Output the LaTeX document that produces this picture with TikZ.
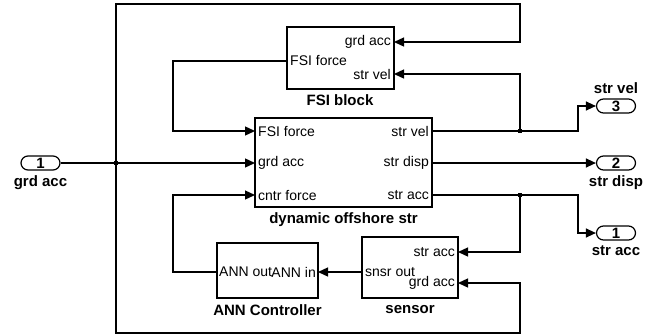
\documentclass[tikz,border=0pt]{standalone}
\usepackage{fontspec}
\setmainfont{Liberation Sans}
\usetikzlibrary{arrows.meta, positioning}
\definecolor{wireBlack}{gray}{0.0}

\tikzset{
  blk/.style={draw=wireBlack, line width=1.2pt, inner sep=0pt},
  prt/.style={draw=wireBlack, line width=1.2pt, rounded corners=7pt, minimum width=39pt, minimum height=14pt, inner sep=0pt, font=\fontsize{15}{15}\selectfont\bfseries},
  plab/.style={inner sep=0pt, font=\fontsize{14}{14}\selectfont},
  blab/.style={inner sep=0pt, font=\fontsize{15}{15}\selectfont\bfseries},
  wire/.style={wireBlack, line width=1.3pt},
  jdot/.style={fill=wireBlack, minimum size=4pt, inner sep=0pt},
}

\begin{document}
\begin{tikzpicture}[x=1pt, y=-1pt, >={Triangle[length=10pt, width=9pt]}]
    \useasboundingbox (0,0) rectangle (655,335);

    % blocks
    \node[blk, minimum width=107pt, minimum height=62pt] (fsi) at (340.5,58) {};
    \node[blk, minimum width=177pt, minimum height=89pt] (dyn) at (343.5,162.5) {};
    \node[blk, minimum width=101pt, minimum height=55pt] (ann) at (267.5,270.5) {};
    \node[blk, minimum width=96pt, minimum height=61pt] (sns) at (410,267.5) {};

    \node[blab] (fsiName) at (340,100) {FSI block};
    \node[blab] (dynName) at (343.5,220) {dynamic offshore str};
    \node[blab] (annName) at (267.5,310) {ANN Controller};
    \node[blab] (snsName) at (410,310) {sensor};

    % ports
    \coordinate (fsiForce) at (287,61);
    \coordinate (fsiGrd) at (394,42);
    \coordinate (fsiVel) at (394,74);
    \coordinate (dynForce) at (255,131);
    \coordinate (dynGrd) at (255,163);
    \coordinate (dynCntr) at (255,195);
    \coordinate (dynVel) at (432,131);
    \coordinate (dynDisp) at (432,163);
    \coordinate (dynAcc) at (432,195);
    \coordinate (annOut) at (217,272);
    \coordinate (annIn) at (318,272);
    \coordinate (snsAcc) at (458,252);
    \coordinate (snsOut) at (362,272);
    \coordinate (snsGrd) at (458,283);

    \node[plab, anchor=west] (lFsiForce) at ([xshift=3pt]fsiForce) {FSI force};
    \node[plab, anchor=east] (lFsiGrd) at ([xshift=-3pt]fsiGrd) {grd acc};
    \node[plab, anchor=east] (lFsiVel) at ([xshift=-3pt]fsiVel) {str vel};
    \node[plab, anchor=west] (lDynForce) at ([xshift=3pt]dynForce) {FSI force};
    \node[plab, anchor=west] (lDynGrd) at ([xshift=3pt]dynGrd) {grd acc};
    \node[plab, anchor=west] (lDynCntr) at ([xshift=3pt]dynCntr) {cntr force};
    \node[plab, anchor=east] (lDynVel) at ([xshift=-3pt]dynVel) {str vel};
    \node[plab, anchor=east] (lDynDisp) at ([xshift=-3pt]dynDisp) {str disp};
    \node[plab, anchor=east] (lDynAcc) at ([xshift=-3pt]dynAcc) {str acc};
    \node[plab, anchor=west] (lAnnOut) at ([xshift=2pt]annOut) {ANN out};
    \node[plab, anchor=east] (lAnnIn) at ([xshift=-2pt]annIn) {ANN in};
    \node[plab, anchor=east] (lSnsAcc) at ([xshift=-3pt]snsAcc) {str acc};
    \node[plab, anchor=west] (lSnsOut) at ([xshift=3pt]snsOut) {snsr out};
    \node[plab, anchor=east] (lSnsGrd) at ([xshift=-3pt]snsGrd) {grd acc};

    % in / out
    \node[prt] (inGrd) at (40.5,163) {1};
    \node[blab, below=5pt of inGrd] (inGrdName) {grd acc};
    \node[prt] (outVel) at (616,106) {3};
    \node[blab, above=5pt of outVel] (outVelName) {str vel};
    \node[prt] (outDisp) at (616,163) {2};
    \node[blab, below=5pt of outDisp] (outDispName) {str disp};
    \node[prt] (outAcc) at (616,233) {1};
    \node[blab, below=5pt of outAcc] (outAccName) {str acc};

    % branch points
    \node[jdot] (j1) at (116,163) {};
    \node[jdot] (j2) at (520,131) {};
    \node[jdot] (j3) at (520,195) {};
    \coordinate (topR) at (520,4);
    \coordinate (botR) at (520,333);

    % wires
    \draw[wire, ->] (inGrd.east) -- (dynGrd);
    \draw[wire, ->] (j1.center) |- (topR) |- (fsiGrd);
    \draw[wire, ->] (j1.center) |- (botR) |- (snsGrd);
    \draw[wire, ->] (fsiForce) -- ++(-114,0) |- (dynForce);
    \draw[wire, ->] (annOut) -- ++(-44,0) |- (dynCntr);
    \draw[wire, ->] (snsOut) -- (annIn);
    \draw[wire, ->] (dynVel) -- ++(146,0) |- (outVel.west);
    \draw[wire, ->] (j2.center) |- (fsiVel);
    \draw[wire, ->] (dynDisp) -- (outDisp.west);
    \draw[wire, ->] (dynAcc) -- ++(146,0) |- (outAcc.west);
    \draw[wire, ->] (j3.center) |- (snsAcc);
\end{tikzpicture}
\end{document}
